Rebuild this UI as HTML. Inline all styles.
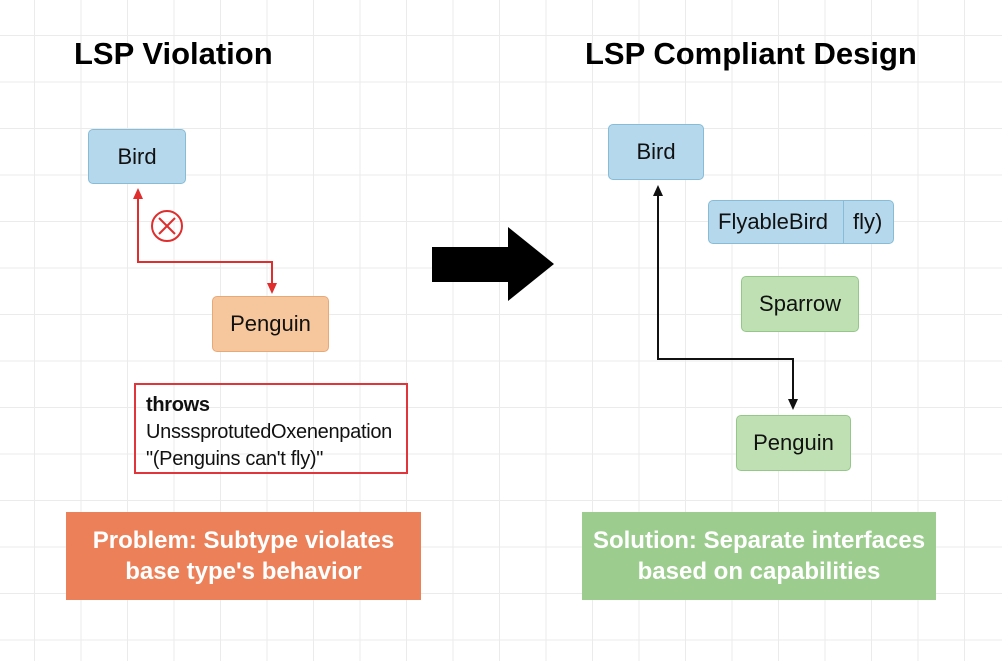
<!DOCTYPE html>
<html><head><style>
body{margin:0;width:1002px;height:661px;overflow:hidden;background:#fff;font-family:"Liberation Sans",sans-serif;}
.grid{position:absolute;left:0;top:0;width:1002px;height:661px;
background-image:linear-gradient(to right,#ebebeb 1px,transparent 1px),linear-gradient(to bottom,#ebebeb 1px,transparent 1px);
background-size:46.5px 46.5px;background-position:34px 35px;}
.a{position:absolute;box-sizing:border-box;display:flex;align-items:center;justify-content:center;color:#111;}
.blue{background:#b6d8ec;border:1.5px solid #86bcd8;border-radius:5px;font-size:22px;}
.or{background:#f6c79c;border:1.5px solid #e9a878;border-radius:5px;font-size:22px;}
.gr{background:#bfe0b3;border:1.5px solid #94c888;border-radius:5px;font-size:22px;}
h1{position:absolute;margin:0;font-size:31px;font-weight:bold;color:#000;}
</style></head><body>
<div class="grid"></div>
<h1 style="left:74px;top:36px">LSP Violation</h1>
<h1 style="left:585px;top:36px">LSP Compliant Design</h1>
<div class="a blue" style="left:88px;top:129px;width:98px;height:55px">Bird</div>
<div class="a or" style="left:212px;top:296px;width:117px;height:56px">Penguin</div>
<div class="a" style="left:134px;top:383px;width:274px;height:91px;border:2px solid #e0353b;display:block;padding:7px 0 0 10px;font-size:20px;line-height:27px;letter-spacing:-0.3px"><b>throws</b><br>UnsssprotutedOxenenpation<br>"(Penguins can't fly)"</div>
<div class="a blue" style="left:608px;top:124px;width:96px;height:56px">Bird</div>
<div class="a blue" style="left:708px;top:200px;width:186px;height:44px;justify-content:flex-start;padding-left:9px">FlyableBird<span style="position:absolute;left:134px;top:0;bottom:0;border-left:1.5px solid #86bcd8"></span><span style="position:absolute;left:144px">fly)</span></div>
<div class="a gr" style="left:741px;top:276px;width:118px;height:56px">Sparrow</div>
<div class="a gr" style="left:736px;top:415px;width:115px;height:56px">Penguin</div>
<div class="a" style="left:66px;top:512px;width:355px;height:88px;background:#ec8058;color:#fff;font-size:24px;text-align:center;line-height:31px;font-weight:bold;-webkit-text-stroke:0">Problem: Subtype violates<br>base type's behavior</div>
<div class="a" style="left:582px;top:512px;width:354px;height:88px;background:#9ccd8e;color:#fff;font-size:24px;text-align:center;line-height:31px;font-weight:bold">Solution: Separate interfaces<br>based on capabilities</div>
<svg width="1002" height="661" style="position:absolute;left:0;top:0">
<polyline points="138,198 138,262 272,262 272,285" fill="none" stroke="#e02d2d" stroke-width="2"/>
<polygon points="138,188 133,199 143,199" fill="#e02d2d"/>
<polygon points="272,294 267,283 277,283" fill="#e02d2d"/>
<circle cx="167" cy="226" r="15" fill="none" stroke="#e02d2d" stroke-width="2"/>
<line x1="159" y1="218" x2="175" y2="234" stroke="#e02d2d" stroke-width="2"/>
<line x1="175" y1="218" x2="159" y2="234" stroke="#e02d2d" stroke-width="2"/>
<polyline points="658,195 658,359 793,359 793,400" fill="none" stroke="#111" stroke-width="2"/>
<polygon points="658,185 653,196 663,196" fill="#111"/>
<polygon points="793,410 788,399 798,399" fill="#111"/>
<polygon points="432,247 508,247 508,227 554,264 508,301 508,282 432,282" fill="#000"/>
</svg>
</body></html>
